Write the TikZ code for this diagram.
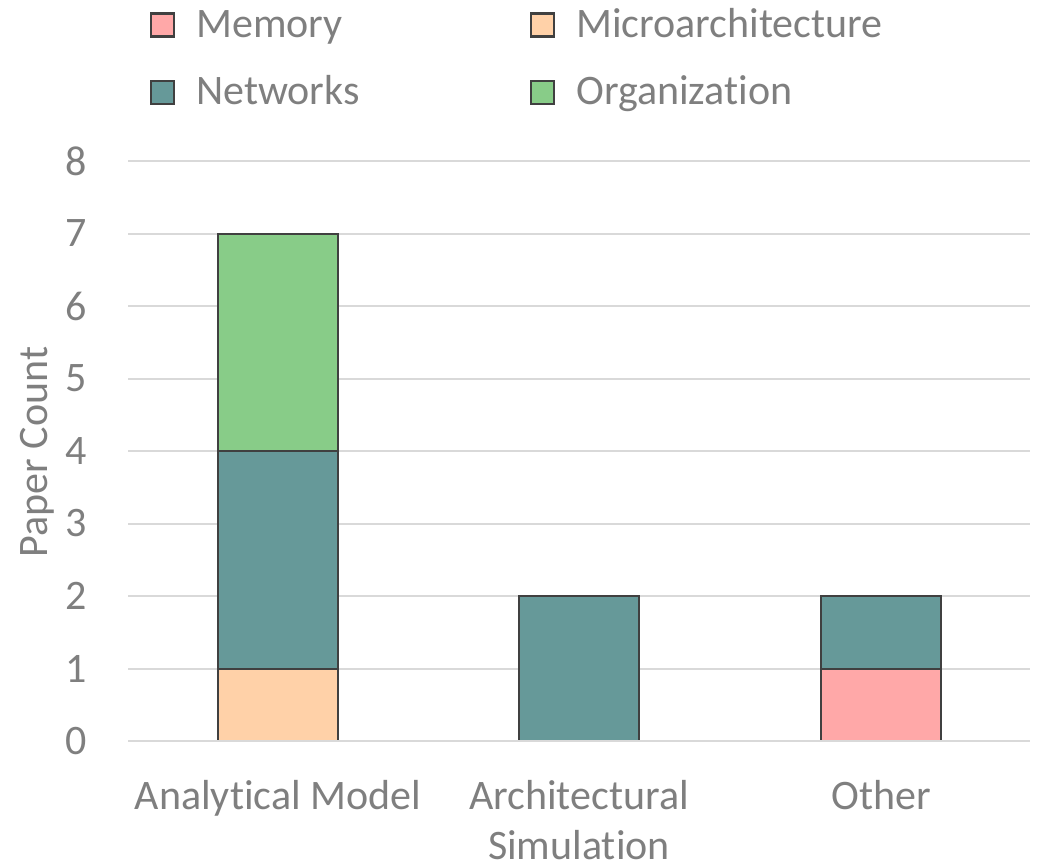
\documentclass[tikz,border=0pt]{standalone}
\usepackage{fontspec}
\setmainfont{Carlito}[RawFeature={-liga;-clig;-calt;-dlig}]
\definecolor{txt}{HTML}{7F7F7F}
\definecolor{gridc}{HTML}{D9D9D9}
\definecolor{edge}{HTML}{404040}
\definecolor{memc}{HTML}{FFA8A8}
\definecolor{microc}{HTML}{FFD1A8}
\definecolor{netc}{HTML}{669999}
\definecolor{orgc}{HTML}{88CC88}
% keep "t" and "i" as separate glyphs
\newcommand\tisep{t\kern0pt i}
\begin{document}
\begin{tikzpicture}[x=1pt,y=-1pt,
  lbl/.style={text=txt,font=\fontsize{42}{50}\selectfont,inner sep=0pt},
  seg/.style={draw=edge,line width=2pt},
  key/.style={draw=edge,line width=2.2pt,minimum size=23pt,inner sep=0pt}]
\useasboundingbox (0,0) rectangle (1038,863);

% horizontal grid and tick labels (value v sits at y = 741 - 72.5 v)
\foreach \v in {0,...,8} {
  \draw[gridc,line width=2pt] (128,{741-72.5*\v}) -- (1030,{741-72.5*\v});
  \node[lbl,anchor=east] (tick\v) at (87,{741-72.5*\v}) {\v};
}

% stacked bars
\filldraw[seg,fill=microc] (218,741) rectangle (338,668.5);
\filldraw[seg,fill=netc]   (218,668.5) rectangle (338,451);
\filldraw[seg,fill=orgc]   (218,451) rectangle (338,233.5);

\filldraw[seg,fill=netc]   (519,741) rectangle (639,596);

\filldraw[seg,fill=memc]   (821,741) rectangle (941,668.5);
\filldraw[seg,fill=netc]   (821,668.5) rectangle (941,596);

% base line over the bars' bottom edges
\draw[gridc,line width=2pt] (128,741) -- (1030,741);

% axis title
\node[lbl,rotate=90] (ytitle) at (37,452) {Paper Count};

% category labels
\node[lbl,anchor=base] (catA) at (278,809) {Analytical Model};
\node[lbl,anchor=base] (catB) at (579,809) {Architectural};
\node[lbl,anchor=base] (catB2) at (579,859) {Simula\tisep on};
\node[lbl,anchor=base] (catC) at (881,809) {Other};

% legend
\node[key,fill=memc]   (kmem)   at (162.5,25) {};
\node[lbl,anchor=base west] (lmem) at (196,37) {Memory};
\node[key,fill=microc] (kmicro) at (542.5,25) {};
\node[lbl,anchor=base west] (lmicro) at (576,37) {Microarchitecture};
\node[key,fill=netc]   (knet)   at (162.5,92.5) {};
\node[lbl,anchor=base west] (lnet) at (196,104.5) {Networks};
\node[key,fill=orgc]   (korg)   at (542.5,92.5) {};
\node[lbl,anchor=base west] (lorg) at (576,104.5) {Organiza\tisep on};
\end{tikzpicture}
\end{document}
